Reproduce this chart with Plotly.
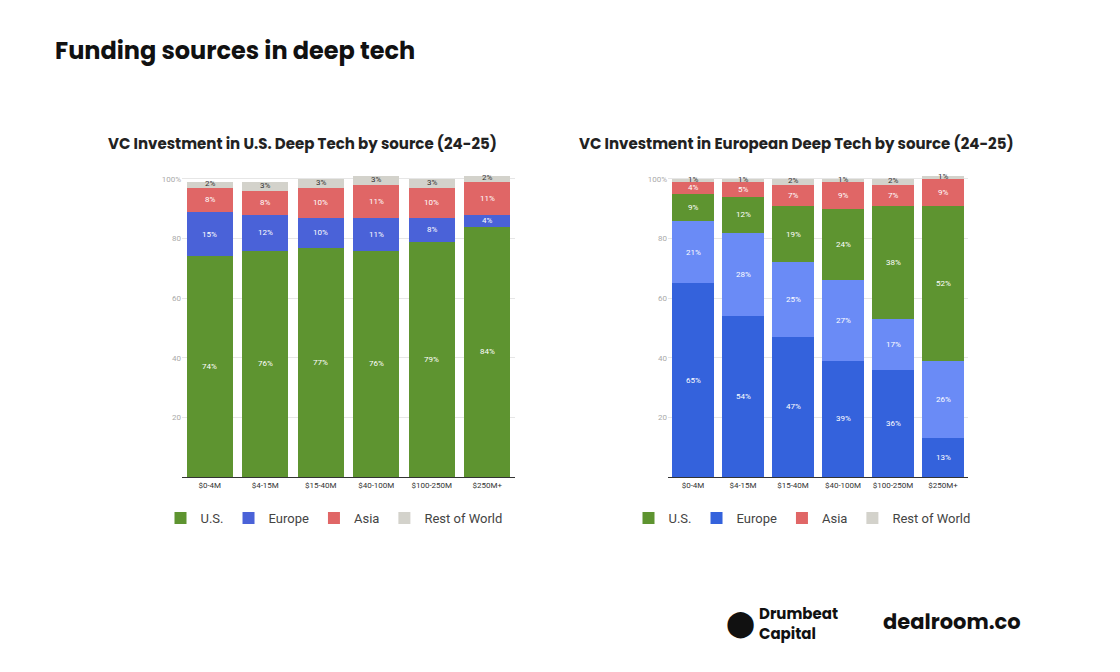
import plotly.graph_objects as go

cats = ["$0-4M", "$4-15M", "$15-40M", "$40-100M", "$100-250M", "$250M+"]
# U.S. deep tech
us_us = [74, 76, 77, 76, 79, 84]
us_eu = [15, 12, 10, 11, 8, 4]
us_asia = [8, 8, 10, 11, 10, 11]
us_row = [2, 3, 3, 3, 3, 2]
# European deep tech
eu_eu_dom = [65, 54, 47, 39, 36, 13]
eu_eu_oth = [21, 28, 25, 27, 17, 26]
eu_us = [9, 12, 19, 24, 38, 52]
eu_asia = [4, 5, 7, 9, 7, 9]
eu_row = [1, 1, 2, 1, 2, 1]

GREEN = "#5e9430"; BLUE = "#4a62d8"; DBLUE = "#3462dc"; LBLUE = "#6a8bf6"
RED = "#e06666"; GREY = "#d3d2cb"

W, H, OFF = 1120, 672, 8
def px(x): return (x - OFF) / W
def py(y): return 1 - (y - OFF) / H

fig = go.Figure()
annots = []

def add_stack(series, xa, ya, legend):
    base = [0] * len(cats)
    for name, vals, col, show, dark, rank in series:
        fig.add_trace(go.Bar(x=cats, y=vals, name=name, marker_color=col, marker_line_width=0,
                             xaxis=xa, yaxis=ya, legend=legend, showlegend=show, legendrank=rank,
                             hoverinfo="skip"))
        for i, v in enumerate(vals):
            yc = base[i] + v / 2
            if dark:
                yc = base[i] + v / 2 + 0.4
            annots.append(dict(x=cats[i], y=yc, xref=xa, yref=ya, text=f"{v}%", showarrow=False,
                               xanchor="center", yanchor="middle",
                               font=dict(size=8, color="#333" if dark else "white", family="Roboto")))
            base[i] += v

add_stack([("U.S.", us_us, GREEN, True, False, 1), ("Europe", us_eu, BLUE, True, False, 2),
           ("Asia", us_asia, RED, True, False, 3), ("Rest of World", us_row, GREY, True, True, 4)],
          "x", "y", "legend")
add_stack([("Europe", eu_eu_dom, DBLUE, True, False, 2), ("Europe (other)", eu_eu_oth, LBLUE, False, False, 5),
           ("U.S.", eu_us, GREEN, True, False, 1), ("Asia", eu_asia, RED, True, False, 3),
           ("Rest of World", eu_row, GREY, True, True, 4)], "x2", "y2", "legend2")

yax = dict(range=[0, 101], tickvals=[20, 40, 60, 80, 100], ticktext=["20", "40", "60", "80", "100%"],
           showgrid=True, gridcolor="#e6e6e6", tickfont=dict(size=8, color="#aaa"), zeroline=False, fixedrange=True)
xax = dict(tickfont=dict(size=8, color="#333"), showline=True, linecolor="#333", linewidth=1, ticks="")

legend_common = dict(orientation="h", xanchor="center", yanchor="middle", font=dict(size=13, color="#444"),
                     traceorder="normal", itemwidth=30, bgcolor="rgba(0,0,0,0)")

TF = "Poppins, Inter, sans-serif"
annots += [
    dict(text="<b>Funding sources in deep tech</b>", x=px(53), y=py(50), xref="paper", yref="paper",
         xanchor="left", yanchor="middle", showarrow=False, font=dict(size=24, color="#111", family=TF)),
    dict(text="<b>VC Investment in U.S. Deep Tech by source (24-25)</b>", x=px(302), y=py(143), xref="paper", yref="paper",
         xanchor="center", yanchor="middle", showarrow=False, font=dict(size=15, color="#222", family=TF)),
    dict(text="<b>VC Investment in European Deep Tech by source (24-25)</b>", x=px(796), y=py(143), xref="paper", yref="paper",
         xanchor="center", yanchor="middle", showarrow=False, font=dict(size=15, color="#222", family=TF)),
    dict(text="<b>Drumbeat<br>Capital</b>", x=px(757), y=py(623), xref="paper", yref="paper", xanchor="left",
         yanchor="middle", showarrow=False, align="left", font=dict(size=15, color="#111", family=TF)),
    dict(text="⬤", x=px(740), y=py(623), xref="paper", yref="paper", showarrow=False,
         xanchor="center", yanchor="middle", font=dict(size=26, color="#111")),
    dict(text="<b>dealroom.co</b>", x=px(952), y=py(621), xref="paper", yref="paper",
         xanchor="center", yanchor="middle", showarrow=False, font=dict(size=21, color="#111", family=TF)),
]

fig.update_layout(
    width=W, height=H, barmode="stack", bargap=0.17,
    plot_bgcolor="white", paper_bgcolor="white", margin=dict(l=0, r=0, t=0, b=0),
    font=dict(family="Roboto"),
    xaxis=dict(domain=[px(182), px(515)], **xax),
    yaxis=dict(domain=[py(477), py(176)], **yax),
    xaxis2=dict(domain=[px(668), px(968)], anchor="y2", **xax),
    yaxis2=dict(domain=[py(477), py(176)], anchor="x2", **yax),
    legend=dict(x=px(334), y=py(518), **legend_common),
    legend2=dict(x=px(802), y=py(518), **legend_common),
    annotations=annots,
)
fig.write_html("out.html")
